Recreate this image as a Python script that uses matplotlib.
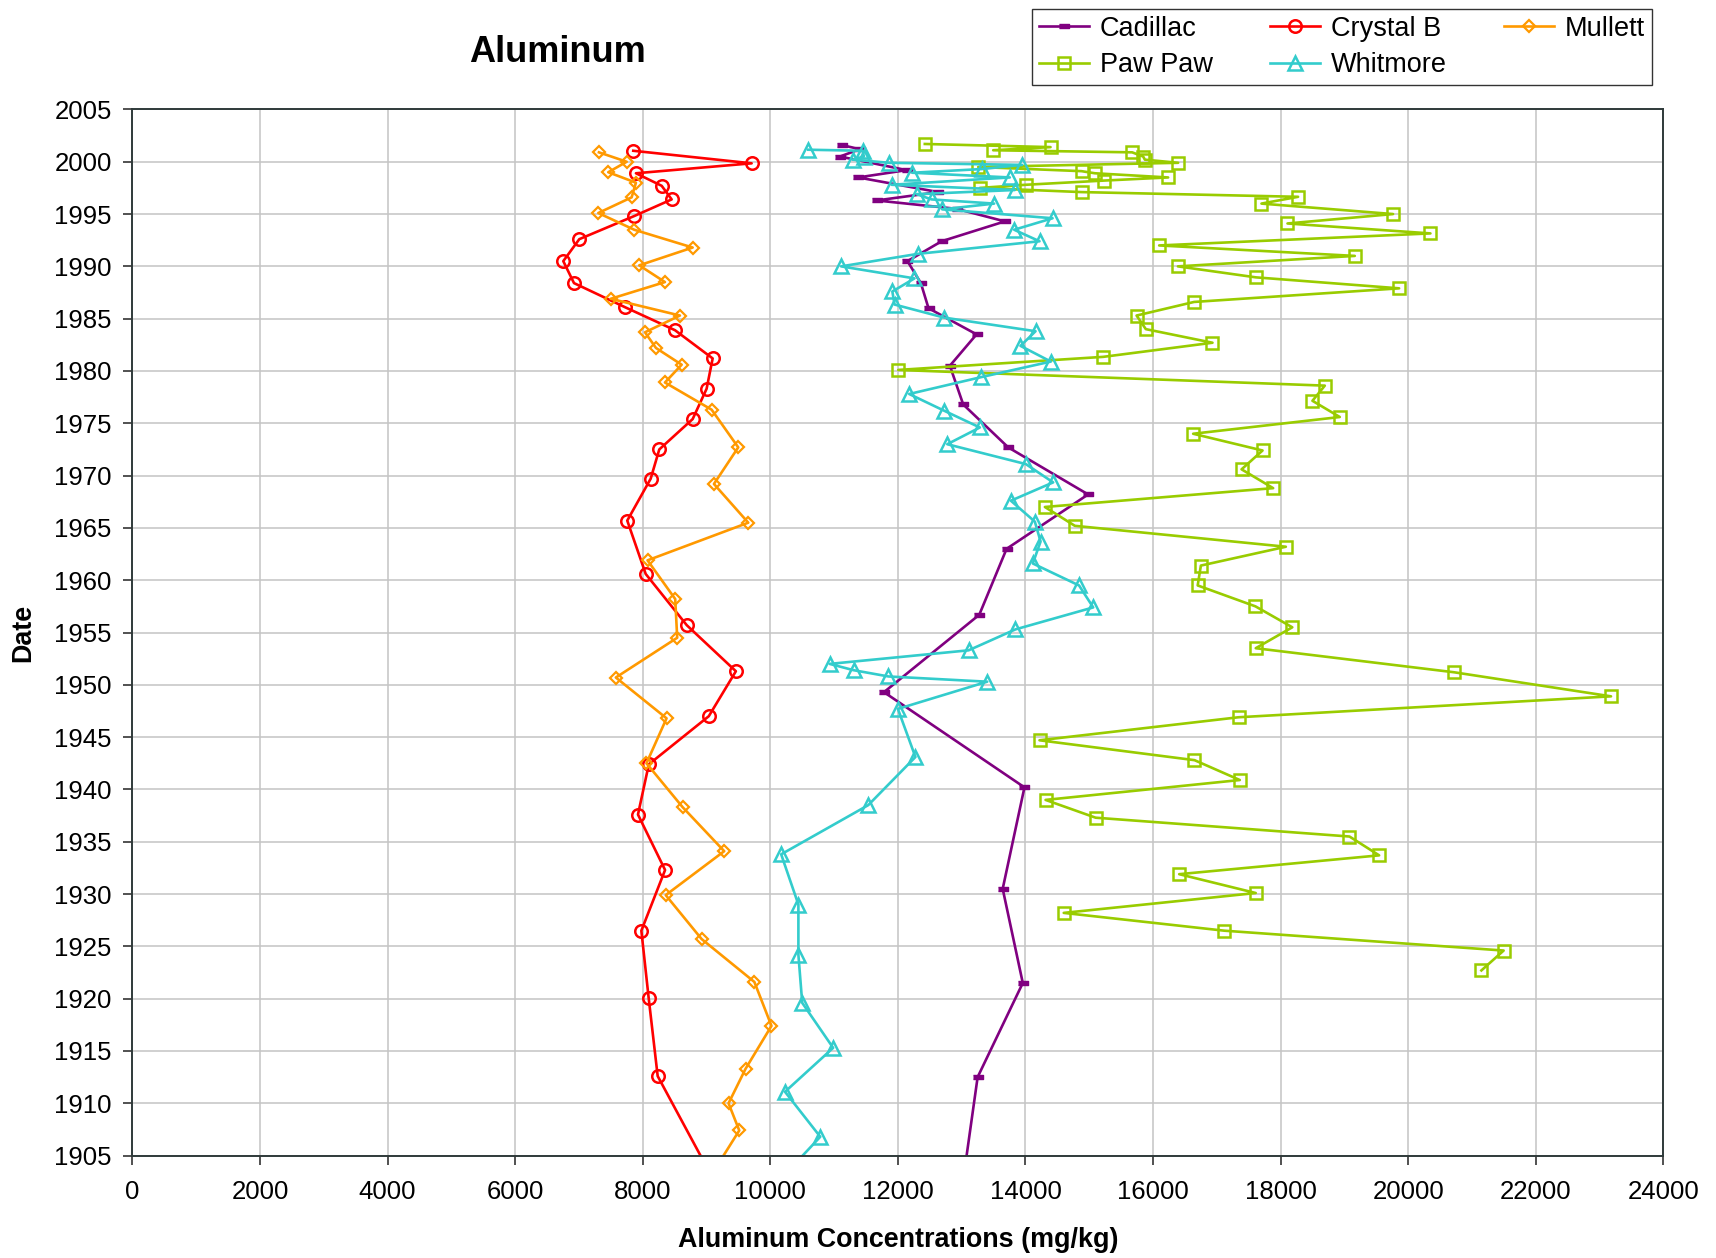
import matplotlib.pyplot as plt
from matplotlib.ticker import MultipleLocator

plt.rcParams["font.family"] = ["Liberation Sans", "DejaVu Sans"]

# Sediment core profiles: (year, aluminum mg/kg) per lake, top of core first.
CADILLAC_YEARS = [2001.6, 2001.2, 2000.5, 1999.2, 1998.5, 1997.1, 1996.3, 1995.5,
                  1994.3, 1992.4, 1990.5, 1988.4, 1986.0, 1983.5, 1980.5, 1976.8,
                  1972.7, 1968.2, 1963.0, 1956.7, 1949.3, 1940.2, 1930.5, 1921.5,
                  1912.5, 1900.0]
CADILLAC_AL = [11118, 11405, 11091, 12136, 11378, 12632, 11666, 12920,
               13677, 12685, 12150, 12360, 12480, 13233, 12815, 13024,
               13729, 14982, 13704, 13276, 11782, 13984, 13643, 13958,
               13250, 12962]

CRYSTAL_YEARS = [2001.05, 1999.85, 1998.9, 1997.7, 1996.4, 1994.8, 1992.6, 1990.5,
                 1988.4, 1986.1, 1983.9, 1981.2, 1978.3, 1975.4, 1972.5, 1969.7,
                 1965.7, 1960.6, 1955.7, 1951.3, 1947.0, 1942.4, 1937.6, 1932.3,
                 1926.5, 1920.1, 1912.6, 1903.0]
CRYSTAL_AL = [7851, 9707, 7893, 8297, 8453, 7862, 7005, 6754,
              6922, 7721, 8505, 9096, 9001, 8782, 8259, 8124,
              7757, 8046, 8690, 9460, 9035, 8095, 7925, 8350,
              7978, 8092, 8234, 9082]

MULLETT_YEARS = [2000.9, 2000.0, 1999.0, 1998.0, 1996.6, 1995.1, 1993.5, 1991.8,
                 1990.1, 1988.5, 1986.9, 1985.3, 1983.7, 1982.2, 1980.6, 1978.9,
                 1976.3, 1972.7, 1969.2, 1965.5, 1961.9, 1958.2, 1954.5, 1950.7,
                 1946.8, 1942.5, 1938.3, 1934.1, 1929.9, 1925.7, 1921.6, 1917.4,
                 1913.3, 1910.0, 1907.4, 1903.0]
MULLETT_AL = [7313, 7748, 7459, 7893, 7826, 7303, 7867, 8782,
              7945, 8348, 7497, 8583, 8035, 8207, 8610, 8348,
              9080, 9497, 9116, 9654, 8075, 8509, 8540, 7578,
              8373, 8058, 8626, 9277, 8360, 8923, 9750, 10018,
              9612, 9345, 9513, 9060]

PAWPAW_YEARS = [2001.7, 2001.4, 2001.1, 2000.9, 2000.5, 2000.2, 1999.9, 1999.5,
                1999.1, 1998.9, 1998.5, 1998.2, 1997.8, 1997.5, 1997.1, 1996.65,
                1996.0, 1995.0, 1994.1, 1993.15, 1992.0, 1991.0, 1990.0, 1988.95,
                1987.9, 1986.6, 1985.3, 1984.0, 1982.7, 1981.35, 1980.1, 1978.6,
                1977.15, 1975.6, 1974.0, 1972.4, 1970.6, 1968.8, 1967.0, 1965.2,
                1963.2, 1961.4, 1959.5, 1957.5, 1955.5, 1953.5, 1951.2, 1948.9,
                1946.9, 1944.7, 1942.8, 1940.9, 1939.0, 1937.3, 1935.5, 1933.7,
                1931.9, 1930.1, 1928.2, 1926.5, 1924.6, 1922.7]
PAWPAW_AL = [12422, 14393, 13494, 15673, 15845, 15872, 16394, 13259,
             14880, 15088, 16237, 15229, 14006, 13286, 14880, 18274,
             17700, 19763, 18108, 20349, 16096, 19163, 16390, 17612,
             19858, 16644, 15742, 15887, 16932, 15218, 12005, 18693,
             18499, 18928, 16629, 17717, 17388, 17883, 14304, 14774,
             18082, 16750, 16700, 17606, 18183, 17610, 20720, 23180,
             17340, 14220, 16650, 17360, 14315, 15100, 19080, 19545,
             16410, 17610, 14600, 17115, 21497, 21148]

WHITMORE_YEARS = [2001.15, 2001.05, 2000.5, 2000.2, 1999.9, 1999.7, 1999.3, 1998.95,
                  1998.5, 1997.8, 1997.3, 1996.9, 1996.4, 1996.0, 1995.45, 1994.6,
                  1993.5, 1992.4, 1991.2, 1990.0, 1988.85, 1987.6, 1986.35, 1985.1,
                  1983.8, 1982.4, 1980.9, 1979.4, 1977.8, 1976.2, 1974.6, 1973.0,
                  1971.1, 1969.35, 1967.6, 1965.6, 1963.7, 1961.6, 1959.5, 1957.4,
                  1955.3, 1953.3, 1952.0, 1951.4, 1950.8, 1950.3, 1947.7, 1943.1,
                  1938.5, 1933.8, 1929.0, 1924.2, 1919.6, 1915.3, 1911.1, 1906.8,
                  1903.0]
WHITMORE_AL = [10594, 11447, 11467, 11290, 11864, 13948, 13312, 12224,
               13755, 11901, 13834, 12293, 12528, 13509, 12694, 14425,
               13823, 14220, 12318, 11110, 12260, 11913, 11948, 12727,
               14158, 13922, 14398, 13296, 12177, 12726, 13285, 12774,
               14006, 14434, 13771, 14147, 14237, 14115, 14840, 15062,
               13843, 13109, 10930, 11305, 11852, 13400, 12000, 12275,
               11535, 10170, 10440, 10440, 10500, 10985, 10230, 10783,
               10200]

CADILLAC_MARKER = [(-1.0, -0.4), (1.0, -0.4), (1.0, 0.4), (-1.0, 0.4)]

SERIES = [
    ("Cadillac", CADILLAC_AL, CADILLAC_YEARS, "#800080",
     dict(marker=CADILLAC_MARKER, markersize=7, markerfacecolor="#800080")),
    ("Crystal B", CRYSTAL_AL, CRYSTAL_YEARS, "#ff0000",
     dict(marker="o", markersize=9, markerfacecolor="none", markeredgewidth=1.8)),
    ("Mullett", MULLETT_AL, MULLETT_YEARS, "#ff9900",
     dict(marker="D", markersize=6.5, markerfacecolor="none", markeredgewidth=1.6)),
    ("Paw Paw", PAWPAW_AL, PAWPAW_YEARS, "#99cc00",
     dict(marker="s", markersize=8.5, markerfacecolor="none", markeredgewidth=1.8)),
    ("Whitmore", WHITMORE_AL, WHITMORE_YEARS, "#33cccc",
     dict(marker="^", markersize=10, markerfacecolor="none", markeredgewidth=1.8)),
]

# legend reads row by row (3 per row); matplotlib fills columns first
LEGEND_ORDER = [0, 3, 1, 4, 2]


def draw(path: str) -> None:
    fig = plt.figure(figsize=(17.16, 12.58), dpi=100)
    ax = fig.add_axes([0.0772, 0.0814, 0.8921, 0.8316])

    lines = []
    for name, values, years, color, style in SERIES:
        line, = ax.plot(values, years, color=color, linewidth=1.9, label=name,
                        markeredgecolor=color, **style)
        lines.append(line)

    ax.set_xlim(0, 24000)
    ax.set_ylim(1905, 2005)
    ax.xaxis.set_major_locator(MultipleLocator(2000))
    ax.yaxis.set_major_locator(MultipleLocator(5))
    ax.grid(True, color="#c4c4c4", linewidth=1.1)
    ax.set_axisbelow(True)
    ax.tick_params(labelsize=18.5, length=6.5, width=1.2, color="#333333")
    ax.tick_params(axis="x", pad=11)
    ax.tick_params(axis="y", pad=8.5)
    for spine in ax.spines.values():
        spine.set_color("#2f3a3a")
        spine.set_linewidth(1.4)

    ax.set_xlabel("Aluminum Concentrations (mg/kg)", fontsize=19.4, fontweight="bold")
    ax.xaxis.set_label_coords(0.5, -0.068)
    ax.set_ylabel("Date", fontsize=19.4, fontweight="bold")
    ax.yaxis.set_label_coords(-0.063, 0.5)
    fig.text(0.325, 0.958, "Aluminum", fontsize=26, fontweight="bold",
             ha="center", va="center")

    handles = [lines[i] for i in LEGEND_ORDER]
    fig.legend(handles, [h.get_label() for h in handles],
               loc="upper left", bbox_to_anchor=(0.6014, 0.993, 0.3613, 0.0),
               mode="expand", borderaxespad=0.0, ncol=3, fontsize=19.5,
               frameon=True, fancybox=False, edgecolor="black",
               handlelength=1.85, handletextpad=0.4, columnspacing=1.9,
               borderpad=0.25, labelspacing=0.4)

    fig.savefig(path, dpi=100)
    plt.close(fig)


def main() -> None:
    draw("out.png")


if __name__ == "__main__":
    main()
